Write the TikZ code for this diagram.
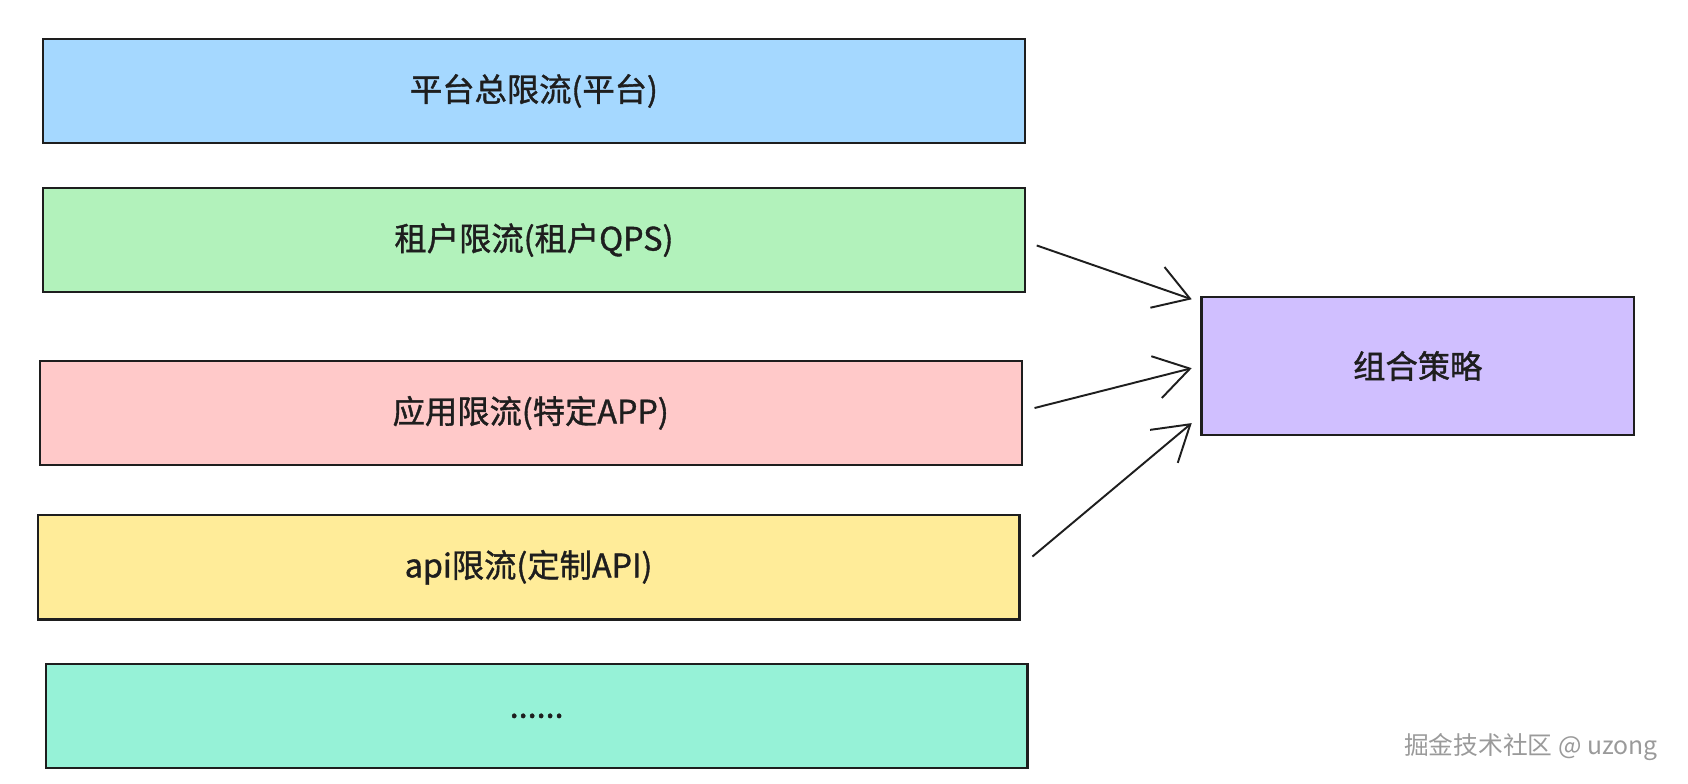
\documentclass[tikz,border=0pt]{standalone}
\usepackage{fontspec}
\setmainfont{Noto Sans CJK SC}
\newfontfamily\labelfont{Noto Sans CJK SC}[FakeBold=1.2]
\definecolor{inkdark}{HTML}{1E1E1E}
\definecolor{limitblue}{HTML}{A5D8FF}
\definecolor{limitgreen}{HTML}{B2F2BB}
\definecolor{limitred}{HTML}{FFC9C9}
\definecolor{limityellow}{HTML}{FFEC99}
\definecolor{limitteal}{HTML}{96F2D7}
\definecolor{limitviolet}{HTML}{D0BFFF}
\definecolor{markgray}{HTML}{9A9A9A}
\usetikzlibrary{arrows.meta, positioning, calc}

\begin{document}
\begin{tikzpicture}[x=0.5pt, y=-0.5pt,
    limitbox/.style={draw=inkdark, line width=1pt, minimum width=456pt, minimum height=48.5pt, inner sep=0pt, text=inkdark, font=\labelfont\fontsize{15}{18}\selectfont},
    flow/.style={draw=inkdark, line width=0.9pt, -{Straight Barb[length=16pt, width=20pt]}}]
  \useasboundingbox (0,0) rectangle (1568,728);
  % the five limit layers
  \node[limitbox, fill=limitblue] (platform) at (496,84.5) {平台总限流(平台)};
  \node[limitbox, fill=limitgreen] (tenant) at (496,223) {租户限流(租户QPS)};
  \node[limitbox, fill=limitred] (app) at (493,383.5) {应用限流(特定APP)};
  \node[limitbox, fill=limityellow] (api) at (491,527) {api限流(定制API)};
  \node[limitbox, fill=limitteal] (more) at (498.5,665) {......};
  % combined strategy
  \node[limitbox, fill=limitviolet, minimum width=201pt, minimum height=64pt] (combo) at (1317,340) {组合策略};
  \draw[flow] ([shift={(10,5)}]tenant.east) -- ([shift={(-8,3)}]combo.north west);
  \draw[flow] ([shift={(11,-4.5)}]app.east) -- ([shift={(-8,2)}]combo.west);
  \draw[flow] ([shift={(11,-10)}]api.east) -- ([shift={(-8,-12)}]combo.south west);
  \node[text=markgray, font=\fontsize{11.5}{14}\selectfont, anchor=east] (mark) at (1547,694) {掘金技术社区 @ uzong};
\end{tikzpicture}
\end{document}
